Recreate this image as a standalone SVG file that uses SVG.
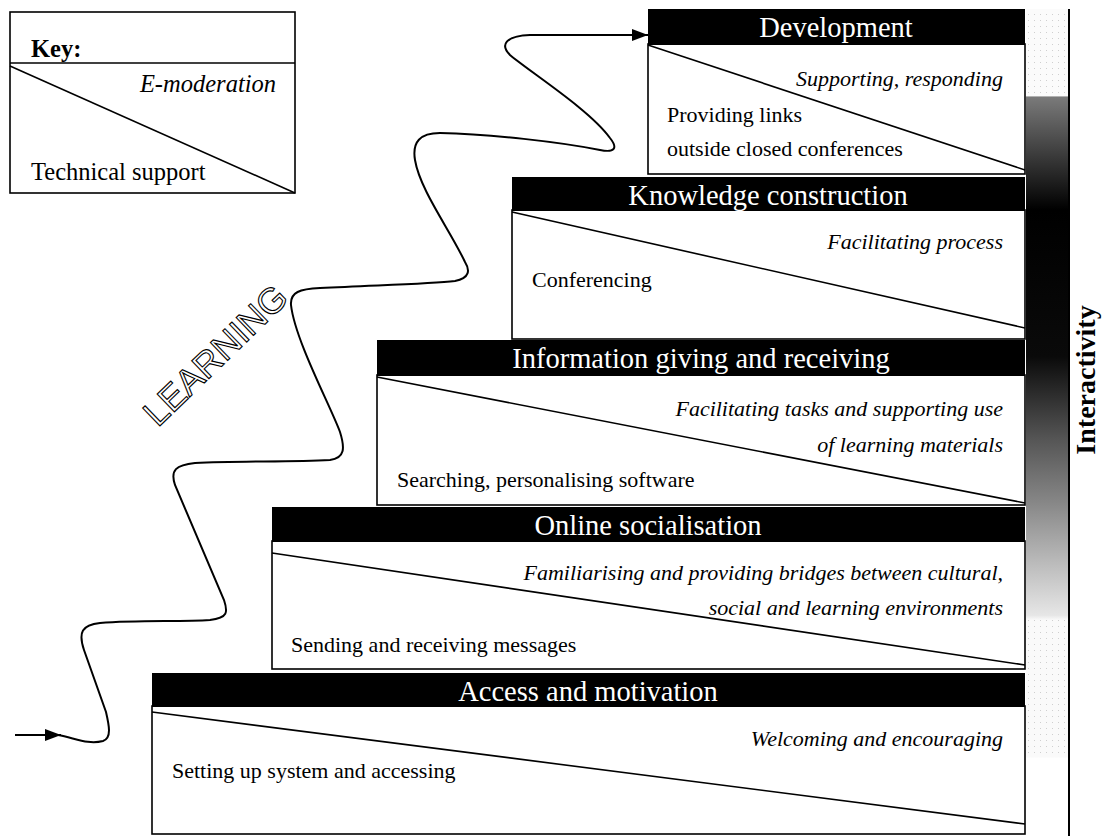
<svg xmlns="http://www.w3.org/2000/svg" width="1104" height="836" viewBox="0 0 1104 836">
  <style>
    .box { fill: #fff; stroke: #000; stroke-width: 1.6; }
    .head { fill: #000; }
    .diag { stroke: #000; stroke-width: 1.6; fill: none; }
    .htxt { font-family: "Liberation Serif", "Times New Roman", serif; font-size: 28.5px; fill: #fff; text-anchor: middle; }
    .mod { font-family: "Liberation Serif", "Times New Roman", serif; font-size: 22px; font-style: italic; fill: #000; text-anchor: end; }
    .tech { font-family: "Liberation Serif", "Times New Roman", serif; font-size: 22px; fill: #000; }
    .keytxt { font-size: 24.5px; }
    .path { fill: none; stroke: #000; stroke-width: 2; }
  </style>
  <defs>
    <marker id="arrow" viewBox="0 0 16 12" refX="16" refY="6" markerWidth="16" markerHeight="12" markerUnits="userSpaceOnUse" orient="auto">
      <path d="M0,0 L16,6 L0,12 Z" fill="#000"/>
    </marker>
    <linearGradient id="interact" x1="0" y1="9" x2="0" y2="836" gradientUnits="userSpaceOnUse">
      <stop offset="0" stop-color="#fbfbfb"/>
      <stop offset="0.105" stop-color="#fbfbfb"/>
      <stop offset="0.1064" stop-color="#7a7a7a"/>
      <stop offset="0.243" stop-color="#000"/>
      <stop offset="0.42" stop-color="#0a0a0a"/>
      <stop offset="0.52" stop-color="#555"/>
      <stop offset="0.594" stop-color="#858585"/>
      <stop offset="0.666" stop-color="#b8b8b8"/>
      <stop offset="0.733" stop-color="#e6e6e6"/>
      <stop offset="0.739" stop-color="#fafafa"/>
      <stop offset="0.9045" stop-color="#fafafa"/>
      <stop offset="0.9057" stop-color="#fff"/>
      <stop offset="1" stop-color="#fff"/>
    </linearGradient>
    <pattern id="dots" width="6" height="6" patternUnits="userSpaceOnUse">
      <rect x="2" y="2" width="1" height="1" fill="#cfcfcf"/>
    </pattern>
  </defs>

  <rect width="1104" height="836" fill="#fff"/>

  <!-- Interactivity scale bar -->
  <g id="interactivity">
    <rect x="1026" y="9" width="43" height="827" fill="url(#interact)"/>
    <rect x="1026" y="9" width="43" height="88" fill="url(#dots)"/>
    <rect x="1026" y="617" width="43" height="140" fill="url(#dots)"/>
    <line x1="1069" y1="9" x2="1069" y2="836" stroke="#000" stroke-width="2"/>
    <text transform="translate(1095,380) rotate(-90)" text-anchor="middle" font-family="Liberation Serif, Times New Roman, serif" font-size="28" font-weight="bold" fill="#000">Interactivity</text>
  </g>

  <!-- Key -->
  <g id="key">
    <rect class="box" x="10" y="12" width="285" height="181"/>
    <line class="diag" x1="10" y1="63" x2="295" y2="63"/>
    <line class="diag" x1="10" y1="66" x2="295" y2="193"/>
    <text x="31" y="57" font-family="Liberation Serif, Times New Roman, serif" font-size="24.5" font-weight="bold">Key:</text>
    <text class="mod keytxt" x="276" y="92">E-moderation</text>
    <text class="tech keytxt" x="31" y="180">Technical support</text>
  </g>

  <!-- Stage 1 -->
  <g id="stage-access">
    <rect class="box" x="152" y="706" width="873" height="128"/>
    <rect class="head" x="152" y="673" width="873" height="34"/>
    <line class="diag" x1="152" y1="712" x2="1025" y2="824"/>
    <text class="htxt" x="588" y="701">Access and motivation</text>
    <text class="mod" x="1003" y="746">Welcoming and encouraging</text>
    <text class="tech" x="172" y="778">Setting up system and accessing</text>
  </g>

  <!-- Stage 2 -->
  <g id="stage-socialisation">
    <rect class="box" x="272" y="541" width="753" height="128"/>
    <rect class="head" x="272" y="507" width="753" height="35"/>
    <line class="diag" x1="272" y1="553" x2="1025" y2="665"/>
    <text class="htxt" x="648" y="535">Online socialisation</text>
    <text class="mod" x="1003" y="580">Familiarising and providing bridges between cultural,</text>
    <text class="mod" x="1003" y="615">social and learning environments</text>
    <text class="tech" x="291" y="652">Sending and receiving messages</text>
  </g>

  <!-- Stage 3 -->
  <g id="stage-information">
    <rect class="box" x="377" y="375" width="648" height="130"/>
    <rect class="head" x="377" y="340" width="648" height="36"/>
    <line class="diag" x1="377" y1="377" x2="1025" y2="503"/>
    <text class="htxt" x="701" y="368">Information giving and receiving</text>
    <text class="mod" x="1003" y="416">Facilitating tasks and supporting use</text>
    <text class="mod" x="1003" y="452">of learning materials</text>
    <text class="tech" x="397" y="487">Searching, personalising software</text>
  </g>

  <!-- Stage 4 -->
  <g id="stage-knowledge">
    <rect class="box" x="512" y="210" width="513" height="129"/>
    <rect class="head" x="512" y="177" width="513" height="34"/>
    <line class="diag" x1="512" y1="212" x2="1025" y2="328"/>
    <text class="htxt" x="768" y="205">Knowledge construction</text>
    <text class="mod" x="1003" y="249">Facilitating process</text>
    <text class="tech" x="532" y="287">Conferencing</text>
  </g>

  <!-- Stage 5 -->
  <g id="stage-development">
    <rect class="box" x="648" y="44" width="377" height="130"/>
    <rect class="head" x="648" y="9" width="377" height="36"/>
    <line class="diag" x1="648" y1="45" x2="1025" y2="170"/>
    <text class="htxt" x="836" y="37">Development</text>
    <text class="mod" x="1003" y="86">Supporting, responding</text>
    <text class="tech" x="667" y="122">Providing links</text>
    <text class="tech" x="667" y="156">outside closed conferences</text>
  </g>

  <!-- Learning path winding up the steps -->
  <g id="connectors">
    <line class="path" x1="15" y1="735" x2="61" y2="735" marker-end="url(#arrow)"/>
    <path class="path" marker-end="url(#arrow)" d="M58,735 C75,738 88,745 103,741 C112,738 109,725 106,712 L84,650 C78,632 82,625 100,623 C140,620 180,622 210,620 C228,618 228,612 224,600 L175,485 C170,470 176,465 195,463 C240,461 290,462 330,460 C345,458 345,448 340,432 C330,405 295,340 291,305 C290,292 300,289 320,288 C380,285 430,284 455,281 C470,278 470,270 465,262 C450,230 420,190 415,160 C412,142 420,133 440,133 C490,134 560,142 600,150 C615,153 618,148 610,138 C590,110 530,72 510,55 C500,45 505,36 530,35 L648,35"/>
    <text transform="translate(224,364) rotate(-44)" text-anchor="middle" font-family="Liberation Sans, Arial, sans-serif" font-size="36" fill="#fff" stroke="#000" stroke-width="1.1">LEARNING</text>
  </g>
</svg>
